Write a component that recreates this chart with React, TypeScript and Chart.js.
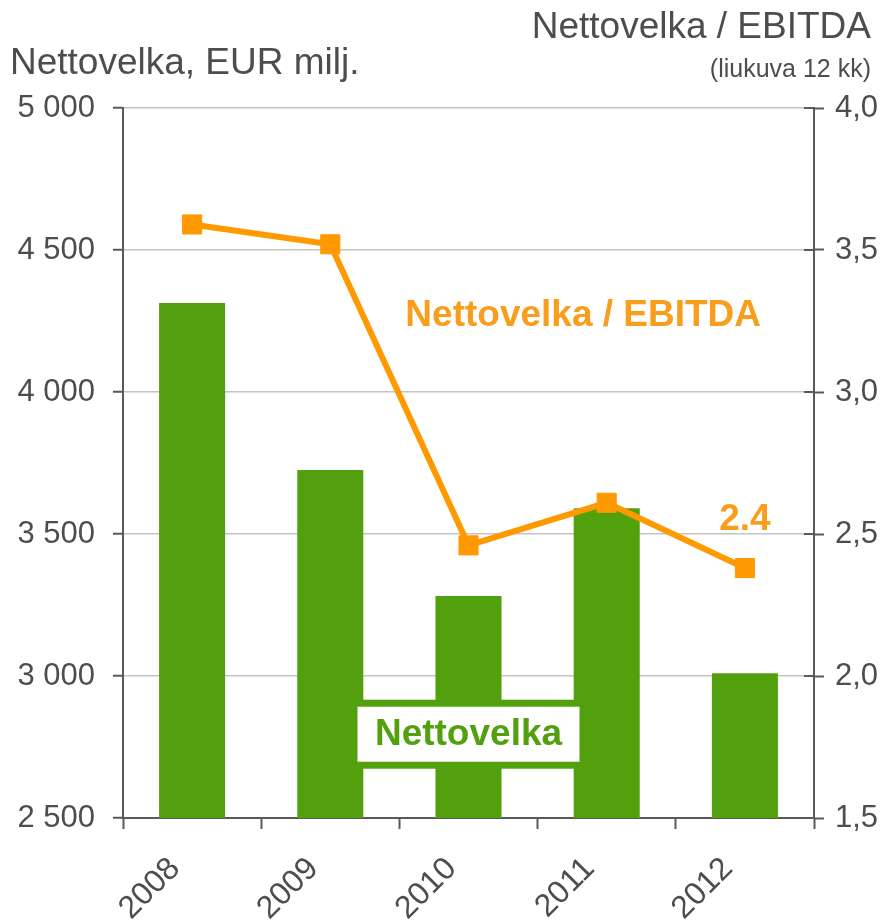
import React, { useEffect, useRef } from "react";
import { Chart, registerables } from "chart.js";

Chart.register(...registerables);

const years = ["2008", "2009", "2010", "2011", "2012"];
const netDebt = [4313, 3725, 3282, 3591, 3010];
const debtToEbitda = [3.59, 3.52, 2.46, 2.61, 2.38];
const leftTicks = [2500, 3000, 3500, 4000, 4500, 5000];
const rightTicks = [1.5, 2.0, 2.5, 3.0, 3.5, 4.0];

const leftTitle = "Nettovelka, EUR milj.";
const rightTitle = "Nettovelka / EBITDA";
const rightSubtitle = "(liukuva 12 kk)";
const lineLabel = "Nettovelka / EBITDA";
const barLabel = "Nettovelka";
const lastLabel = "2.4";

const GREEN = "#52a00e";
const ORANGE = "#ff9900";
const ORANGE_TEXT = "#f99d1c";
const GREY = "#4d4d4d";
const AXIS = "#595959";
const GRID = "#c4c4c4";
const FONT = "'Liberation Sans', Arial, sans-serif";

const fmtLeft = (v: number) =>
  `${Math.floor(v / 1000)} ${String(Math.round(v % 1000)).padStart(3, "0")}`;
const fmtRight = (v: number) => v.toFixed(1).replace(".", ",");

const overlay = {
  id: "overlay",
  afterDatasetsDraw(chart: any) {
    const { ctx, scales } = chart;
    const x = scales.x;
    const y = scales.y;
    const y1 = scales.y1;
    ctx.save();
    // inward halves of the right-axis tick marks
    ctx.strokeStyle = AXIS;
    ctx.lineWidth = 2;
    ctx.beginPath();
    for (const v of rightTicks) {
      const py = y1.getPixelForValue(v);
      ctx.moveTo(y1.left - 10, py);
      ctx.lineTo(y1.left, py);
    }
    ctx.stroke();
    // Nettovelka box
    const bx = x.getPixelForValue(2);
    const by = y.getPixelForValue(2795);
    const w = 222, h = 55, b = 7;
    ctx.fillStyle = GREEN;
    ctx.fillRect(bx - w / 2 - b, by - h / 2 - b, w + 2 * b, h + 2 * b);
    ctx.fillStyle = "#ffffff";
    ctx.fillRect(bx - w / 2, by - h / 2, w, h);
    ctx.fillStyle = GREEN;
    ctx.font = `bold 37px ${FONT}`;
    ctx.textAlign = "center";
    ctx.textBaseline = "middle";
    ctx.fillText(barLabel, bx, by + 1);
    // line labels
    ctx.fillStyle = ORANGE_TEXT;
    ctx.fillText(lineLabel, x.getPixelForValue(2.83), y1.getPixelForValue(3.27));
    ctx.fillText(lastLabel, x.getPixelForValue(4), y1.getPixelForValue(2.55));
    ctx.restore();
  },
  afterDraw(chart: any) {
    const { ctx } = chart;
    ctx.save();
    ctx.fillStyle = GREY;
    ctx.textBaseline = "alphabetic";
    ctx.font = `37px ${FONT}`;
    ctx.textAlign = "left";
    ctx.fillText(leftTitle, 10, 74);
    ctx.textAlign = "right";
    ctx.fillText(rightTitle, 871, 38);
    ctx.font = `25px ${FONT}`;
    ctx.fillText(rightSubtitle, 871, 77);
    ctx.restore();
  },
};

export default function App() {
  const ref = useRef<HTMLCanvasElement | null>(null);
  useEffect(() => {
    document.body.style.margin = "0";
    if (!ref.current) return;
    const chart = new Chart(ref.current, {
      type: "bar",
      data: {
        labels: years,
        datasets: [
          {
            type: "line",
            label: lineLabel,
            data: debtToEbitda,
            yAxisID: "y1",
            borderColor: ORANGE,
            backgroundColor: ORANGE,
            borderWidth: 6,
            pointStyle: "rect",
            pointRadius: 13.5,
            pointBorderWidth: 1,
            pointBorderColor: ORANGE,
            pointBackgroundColor: ORANGE,
            order: 0,
          } as any,
          {
            type: "bar",
            label: barLabel,
            data: netDebt,
            yAxisID: "y",
            backgroundColor: GREEN,
            barPercentage: 0.478,
            categoryPercentage: 1,
            order: 1,
          },
        ],
      },
      options: {
        responsive: false,
        animation: false,
        devicePixelRatio: 1,
        layout: { padding: { top: 108, left: 0, right: 0, bottom: 0 } },
        plugins: { legend: { display: false }, tooltip: { enabled: false } },
        scales: {
          x: {
            offset: true,
            grid: {
              offset: true,
              drawOnChartArea: false,
              tickLength: 11,
              tickColor: AXIS,
              tickWidth: 2,
            },
            border: { display: true, color: AXIS, width: 2 },
            ticks: {
              minRotation: 45,
              maxRotation: 45,
              color: GREY,
              font: { family: FONT, size: 32 },
              padding: 21,
              labelOffset: -17,
            },
            afterFit: (s: any) => {
              s.height = 104;
            },
          },
          y: {
            position: "left",
            min: 2500,
            max: 5000,
            afterBuildTicks: (s: any) => {
              s.ticks = leftTicks.map((v) => ({ value: v }));
            },
            grid: {
              color: GRID,
              lineWidth: 1.5,
              tickLength: 10,
              tickColor: AXIS,
              tickWidth: 2,
            },
            border: { display: true, color: AXIS, width: 2 },
            ticks: {
              color: GREY,
              font: { family: FONT, size: 31 },
              padding: 18,
              callback: (v: any) => fmtLeft(Number(v)),
            },
            afterFit: (s: any) => {
              s.width = 123;
            },
          },
          y1: {
            position: "right",
            min: 1.5,
            max: 4.0,
            afterBuildTicks: (s: any) => {
              s.ticks = rightTicks.map((v) => ({ value: v }));
            },
            grid: {
              drawOnChartArea: false,
              tickLength: 10,
              tickColor: AXIS,
              tickWidth: 2,
            },
            border: { display: true, color: AXIS, width: 2 },
            ticks: {
              color: GREY,
              font: { family: FONT, size: 31 },
              padding: 11,
              callback: (v: any) => fmtRight(Number(v)),
            },
            afterFit: (s: any) => {
              s.width = 74;
            },
          },
        },
      },
      plugins: [overlay],
    });
    return () => chart.destroy();
  }, []);
  return (
    <div style={{ width: 888, height: 922, background: "#fff" }}>
      <canvas ref={ref} width={888} height={922} style={{ display: "block", width: 888, height: 922 }} />
    </div>
  );
}
